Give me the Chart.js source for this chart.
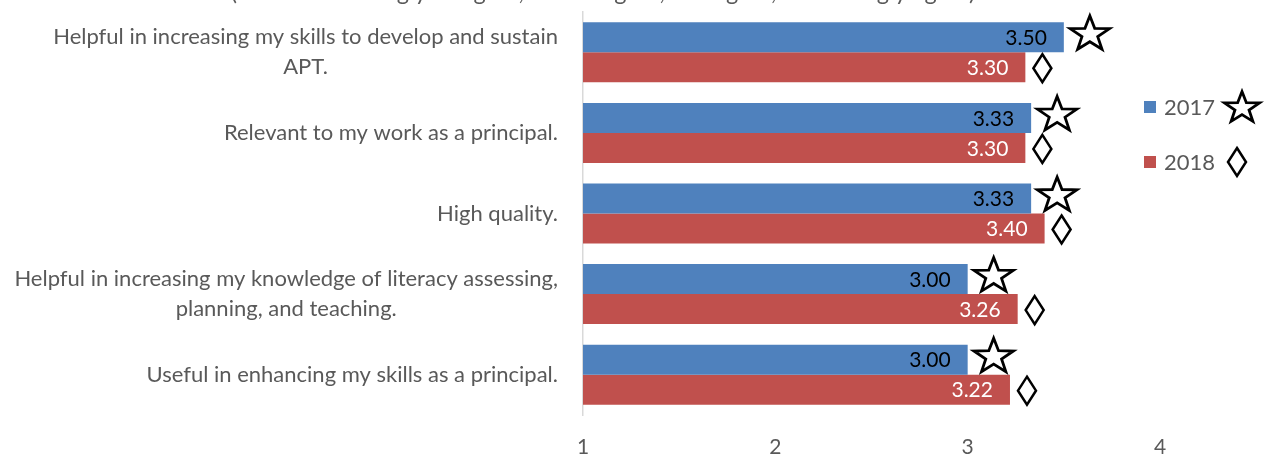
<!DOCTYPE html>
<html>
<head>
<meta charset="utf-8">
<script src="https://cdn.jsdelivr.net/npm/chart.js@4"></script>
<style>
  html, body { margin: 0; padding: 0; background: #fff; }
  #contenedor { width: 1264px; height: 455px; }
</style>
</head>
<body>
<div id="contenedor"><canvas id="grafico" width="1264" height="455"></canvas></div>
<script>
// Datos del gráfico
const categorias = [
    ['Helpful in increasing my skills to develop and sustain', 'APT.'],
    ['Relevant to my work as a principal.'],
    ['High quality.'],
    ['Helpful in increasing my knowledge of literacy assessing,', 'planning, and teaching.'],
    ['Useful in enhancing my skills as a principal.']
];
const anios = ['2017', '2018'];
const valores2017 = [3.50, 3.33, 3.33, 3.00, 3.00];
const valores2018 = [3.30, 3.30, 3.40, 3.26, 3.22];
const marcaEscala = [1, 2, 3, 4];
const textoEscala = '(Scale: 1 = Strongly disagree, 2 = Disagree, 3 = Agree, 4 = Strongly agree)';

const AZUL = '#4F81BD';
const ROJO = '#C0504D';
const GRIS = '#595959';
const FUENTE = 'Lato, "Open Sans", sans-serif';

function estrella(ctx, cx, cy, R, sx) {
    ctx.save();
    ctx.translate(cx, cy);
    ctx.scale(sx, 1);
    ctx.beginPath();
    for (let i = 0; i < 10; i++) {
        const r = (i % 2 === 0) ? R : R * 0.4;
        const a = -Math.PI / 2 + i * Math.PI / 5;
        const x = r * Math.cos(a), y = r * Math.sin(a);
        if (i === 0) ctx.moveTo(x, y); else ctx.lineTo(x, y);
    }
    ctx.closePath();
    ctx.restore();
    ctx.fillStyle = '#fff';
    ctx.fill();
    ctx.lineWidth = 2.8;
    ctx.lineJoin = 'miter';
    ctx.strokeStyle = '#000';
    ctx.stroke();
}

function rombo(ctx, cx, cy, w, h) {
    ctx.beginPath();
    ctx.moveTo(cx, cy - h);
    ctx.lineTo(cx + w, cy);
    ctx.lineTo(cx, cy + h);
    ctx.lineTo(cx - w, cy);
    ctx.closePath();
    ctx.fillStyle = '#fff';
    ctx.fill();
    ctx.lineWidth = 2.5;
    ctx.strokeStyle = '#000';
    ctx.stroke();
}

const extras = {
    id: 'extras',
    afterDatasetsDraw(chart) {
        const ctx = chart.ctx;
        ctx.save();
        ctx.font = '21px ' + FUENTE;
        ctx.textAlign = 'right';
        ctx.textBaseline = 'middle';
        chart.data.datasets.forEach((ds, d) => {
            chart.getDatasetMeta(d).data.forEach((barra, i) => {
                ctx.fillStyle = d === 0 ? '#000' : '#fff';
                ctx.fillText(ds.data[i].toFixed(2), barra.x - 17, barra.y + 1);
                if (d === 0) estrella(ctx, barra.x + 26, barra.y - 3, 18.5, 1.12);
                else rombo(ctx, barra.x + 17, barra.y + 1, 9, 14);
            });
        });
        ctx.restore();
    },
    afterDraw(chart) {
        const ctx = chart.ctx;
        const ejeY = chart.scales.y;
        ctx.save();
        ctx.fillStyle = GRIS;

        // etiquetas de categoría: bloque alineado a la derecha, líneas centradas
        ctx.font = '22px ' + FUENTE;
        ctx.textAlign = 'center';
        ctx.textBaseline = 'middle';
        categorias.forEach((lineas, i) => {
            const y = ejeY.getPixelForTick(i);
            const ancho = Math.max(...lineas.map(l => ctx.measureText(l).width));
            const xc = 558 - ancho / 2;
            lineas.forEach((l, k) => {
                ctx.fillText(l, xc, y + (k - (lineas.length - 1) / 2) * 30);
            });
        });

        // texto de la escala, cortado por el borde superior
        ctx.font = '23.5px ' + FUENTE;
        ctx.textBaseline = 'alphabetic';
        ctx.fillText(textoEscala, 603, 0);

        // leyenda
        const colores = [AZUL, ROJO];
        const filas = [107, 162];
        ctx.textAlign = 'left';
        ctx.textBaseline = 'middle';
        ctx.font = '22px ' + FUENTE;
        anios.forEach((a, i) => {
            ctx.fillStyle = colores[i];
            ctx.fillRect(1144, filas[i] - 6, 12, 12);
            ctx.fillStyle = GRIS;
            ctx.fillText(a, 1164, filas[i] + 1);
        });
        estrella(ctx, 1242, filas[0] + 1, 16.5, 1.12);
        rombo(ctx, 1237, filas[1], 9, 14);
        ctx.restore();
    }
};

new Chart(document.getElementById('grafico'), {
    type: 'bar',
    data: {
        labels: categorias.map(c => c.join(' ')),
        datasets: [
            { label: anios[0], data: valores2017, backgroundColor: AZUL },
            { label: anios[1], data: valores2018, backgroundColor: ROJO }
        ]
    },
    options: {
        indexAxis: 'y',
        responsive: false,
        animation: false,
        devicePixelRatio: 1,
        layout: { padding: { top: 12, right: 104, left: 0, bottom: 0 } },
        datasets: { bar: { categoryPercentage: 0.744, barPercentage: 1 } },
        plugins: { legend: { display: false }, tooltip: { enabled: false } },
        scales: {
            x: {
                type: 'linear',
                min: 1,
                max: 4,
                afterBuildTicks: (eje) => { eje.ticks = marcaEscala.map(v => ({ value: v })); },
                grid: { display: false, drawTicks: false },
                border: { display: false },
                ticks: { color: GRIS, font: { family: FUENTE, size: 21 }, padding: 20 },
                afterFit: (eje) => { eje.height = 40; }
            },
            y: {
                grid: { display: false, drawTicks: false },
                border: { display: true, color: '#d9d9d9', width: 1.5 },
                ticks: { display: false },
                afterFit: (eje) => { eje.width = 583; }
            }
        }
    },
    plugins: [extras]
});
</script>
</body>
</html>
